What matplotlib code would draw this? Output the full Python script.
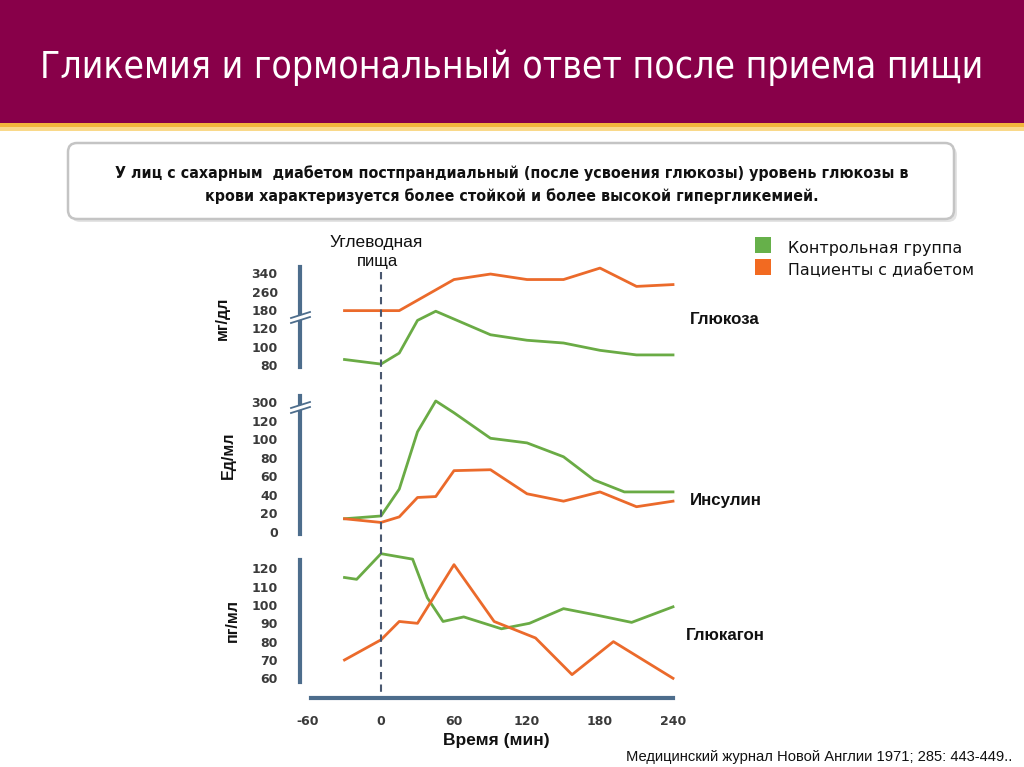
import numpy as np
import matplotlib
matplotlib.use("Agg")
import matplotlib.pyplot as plt
from matplotlib.patches import Rectangle, FancyBboxPatch, Polygon
from matplotlib.lines import Line2D
from matplotlib.transforms import Affine2D, blended_transform_factory

# ---------------------------------------------------------------
# data
# ---------------------------------------------------------------
glu_t_ctrl = [-30, 0, 15, 30, 45, 90, 120, 150, 180, 210, 240]
glu_ctrl   = [86, 81, 93, 146, 176, 113, 107, 104, 96, 91, 91]
glu_t_diab = [-30, 0, 15, 60, 90, 120, 150, 180, 210, 240]
glu_diab   = [178, 178, 178, 313, 337, 313, 313, 363, 283, 291]

ins_t_ctrl = [-30, 0, 15, 30, 45, 60, 90, 120, 150, 175, 200, 240]
ins_ctrl   = [14, 17, 46, 108, 312, 197, 101, 96, 81, 56, 43, 43]
ins_t_diab = [-30, 0, 15, 30, 45, 60, 90, 120, 150, 180, 210, 240]
ins_diab   = [14, 10, 16, 37, 38, 66, 67, 41, 33, 43, 27, 33]

gcg_t_ctrl = [-30, -20, 0, 26, 38, 51, 68, 99, 122, 150, 177, 206, 240]
gcg_ctrl   = [115, 114, 128, 125, 104, 91, 93.5, 87, 90, 98, 94.5, 90.5, 99]
gcg_t_diab = [-30, 0, 15, 30, 60, 93, 127, 157, 191, 240]
gcg_diab   = [70, 81, 91, 90, 122, 91, 82, 62, 80, 60]

glu_ticks  = [80, 100, 120, 180, 260, 340]
ins_ticks  = [0, 20, 40, 60, 80, 100, 120, 300]
gcg_ticks  = [60, 70, 80, 90, 100, 110, 120]
time_ticks = [-60, 0, 60, 120, 180, 240]

labels = ["Контрольная группа", "Пациенты с диабетом"]

# ---------------------------------------------------------------
# styling
# ---------------------------------------------------------------
W, H = 1024, 767
GREEN, ORANGE = "#6aab45", "#eb6a2b"
AXC = "#4d6d8c"
TXT = "#3a3a3a"
SANS = ["Liberation Sans", "DejaVu Sans"]

fig = plt.figure(figsize=(W / 100, H / 100), dpi=100)
px = Affine2D().scale(1 / W, -1 / H).translate(0, 1) + fig.transFigure


def fx(x):
    return x / W


def fy(y):
    return 1 - y / H


# header band
fig.add_artist(Rectangle((0, 0), W, 124, transform=px, color="#880049", lw=0))
fig.add_artist(Rectangle((0, 123), W, 5, transform=px, color="#f3b63c", lw=0))
fig.add_artist(Rectangle((0, 127), W, 4, transform=px, color="#f9d98a", lw=0))
fig.text(fx(512), fy(68), "Гликемия и гормональный ответ после приема пищи",
         color="white", fontsize=26.7, family=["DejaVu Sans"], stretch="condensed",
         ha="center", va="center")

# text box
fig.add_artist(FancyBboxPatch((71, 146), 886, 76, transform=px,
                              boxstyle="round,pad=0,rounding_size=9",
                              fc="#e4e4e4", ec="none"))
fig.add_artist(FancyBboxPatch((68, 143), 886, 76, transform=px,
                              boxstyle="round,pad=0,rounding_size=9",
                              fc="white", ec="#c4c4c4", lw=1.8))
fig.text(fx(512), fy(173), "У лиц с сахарным  диабетом постпрандиальный (после усвоения глюкозы) уровень глюкозы в",
         fontsize=11.4, family=["DejaVu Sans"], stretch="condensed", weight="bold",
         ha="center", va="center", color="#111111")
fig.text(fx(512), fy(196), "крови характеризуется более стойкой и более высокой гипергликемией.",
         fontsize=11.4, family=["DejaVu Sans"], stretch="condensed", weight="bold",
         ha="center", va="center", color="#111111")

# ---------------------------------------------------------------
# panels
# ---------------------------------------------------------------
T0PX, PXPM = 381.0, 1.2167
XL, XR = 300, 700
xlim = ((XL - T0PX) / PXPM, (XR - T0PX) / PXPM)


def make_scale(vb, pb):
    vb, pb = np.asarray(vb, float), np.asarray(pb, float)
    return (lambda v: np.interp(v, vb, pb)), (lambda p: np.interp(p, pb, vb))


def panel(top, bot, p0, ppu, fwd, inv, ticks):
    ax = fig.add_axes([fx(XL), fy(bot), (XR - XL) / W, (bot - top) / H])
    ax.set_yscale("function", functions=(fwd, inv))
    ax.set_ylim(inv(np.array((p0 - bot) / ppu)), inv(np.array((p0 - top) / ppu)))
    ax.set_xlim(*xlim)
    for s in ("top", "right", "bottom"):
        ax.spines[s].set_visible(False)
    ax.spines["left"].set_color(AXC)
    ax.spines["left"].set_linewidth(3)
    ax.set_yticks(ticks)
    ax.set_yticklabels([str(t) for t in ticks])
    ax.minorticks_off()
    ax.tick_params(axis="y", length=0, pad=16, labelsize=9, labelcolor=TXT)
    for lab in ax.get_yticklabels():
        lab.set_fontweight("bold")
    ax.set_xticks([])
    ax.patch.set_alpha(0)
    return ax


def draw(ax, tc, yc, td, yd):
    ax.plot(tc, yc, color=GREEN, lw=2.0, clip_on=False, solid_joinstyle="round")
    ax.plot(td, yd, color=ORANGE, lw=2.0, clip_on=False, solid_joinstyle="round")


def brk(y):
    fig.add_artist(Polygon([(292, y + 3), (309, y - 3), (309, y - 8), (292, y - 2)],
                           closed=True, transform=px, fc="white", ec="none", zorder=5))
    for d in (0, -5):
        fig.add_artist(Line2D([291, 310], [y + 3 + d, y - 3 + d], transform=px,
                              color=AXC, lw=1.3, zorder=6))


# glucose
f1, i1 = make_scale([-1000, 120, 180, 2000], [-54, 2, 3, 3 + 1820 / 80])
ax1 = panel(267, 367, 365, 18.33, f1, i1, glu_ticks)
draw(ax1, glu_t_ctrl, glu_ctrl, glu_t_diab, glu_diab)
brk(320)

# insulin
f2, i2 = make_scale([-1000, 120, 300, 2000], [-50, 6, 7, 7 + 1700 / 180])
ax2 = panel(396, 534, 531.7, 18.5, f2, i2, ins_ticks)
draw(ax2, ins_t_ctrl, ins_ctrl, ins_t_diab, ins_diab)
brk(410)

# glucagon
f3, i3 = make_scale([-1000, 2000], [-106, 194])
ax3 = panel(560, 682, 678.3, 18.33, f3, i3, gcg_ticks)
draw(ax3, gcg_t_ctrl, gcg_ctrl, gcg_t_diab, gcg_diab)

# time axis
axt = fig.add_axes([fx(XL), fy(698), (XR - XL) / W, 0.5 / H])
axt.set_xlim(*xlim)
for s in ("top", "right", "left"):
    axt.spines[s].set_visible(False)
axt.spines["bottom"].set_color(AXC)
axt.spines["bottom"].set_linewidth(3)
axt.spines["bottom"].set_bounds((311 - T0PX) / PXPM, 240)
axt.set_yticks([])
axt.set_xticks(time_ticks)
axt.set_xticklabels([str(t) for t in time_ticks])
axt.tick_params(axis="x", length=0, pad=12, labelsize=9, labelcolor=TXT)
for lab in axt.get_xticklabels():
    lab.set_fontweight("bold")
axt.patch.set_alpha(0)

# meal marker
tr = blended_transform_factory(ax3.transData, fig.transFigure)
fig.add_artist(Line2D([0, 0], [fy(272), fy(692)], transform=tr, color="#4a5870",
                      lw=1.5, ls=(0, (3.5, 2.5))))
fig.text(fx(376), fy(242), "Углеводная", fontsize=12.5, family=SANS, ha="center", va="center", color="#111111")
fig.text(fx(378), fy(262), "пища", fontsize=12, family=SANS, ha="center", va="center", color="#111111")

# unit labels
fig.text(fx(222), fy(318), "мг/дл", rotation=90, fontsize=11.5, family=SANS, weight="bold",
         ha="center", va="center", color="#111111")
fig.text(fx(228), fy(455), "Ед/мл", rotation=90, fontsize=11.5, family=SANS, weight="bold",
         ha="center", va="center", color="#111111")
fig.text(fx(232), fy(620), "пг/мл", rotation=90, fontsize=11.5, family=SANS, weight="bold",
         ha="center", va="center", color="#111111")

# curve names
fig.text(fx(690), fy(320), "Глюкоза", fontsize=12.2, family=SANS, weight="bold", va="center", color="#111111")
fig.text(fx(690), fy(500), "Инсулин", fontsize=12.2, family=SANS, weight="bold", va="center", color="#111111")
fig.text(fx(686), fy(636), "Глюкагон", fontsize=12.2, family=SANS, weight="bold", va="center", color="#111111")

# legend
for y, c, lab in zip((237, 259), ("#66b04a", "#f26a21"), labels):
    fig.add_artist(Rectangle((755, y), 16, 16, transform=px, color=c, lw=0))
    fig.text(fx(788), fy(y + 12), lab, fontsize=11.4, family=["DejaVu Sans"],
             va="center", color="#111111")

fig.text(fx(496), fy(740), "Время (мин)", fontsize=12.5, family=SANS, weight="bold",
         ha="center", va="center", color="#111111")
fig.text(fx(1012), fy(757), "Медицинский журнал Новой Англии 1971; 285: 443-449..",
         fontsize=10.6, family=SANS, ha="right", va="center", color="#111111")

fig.savefig("out.png", dpi=100)
